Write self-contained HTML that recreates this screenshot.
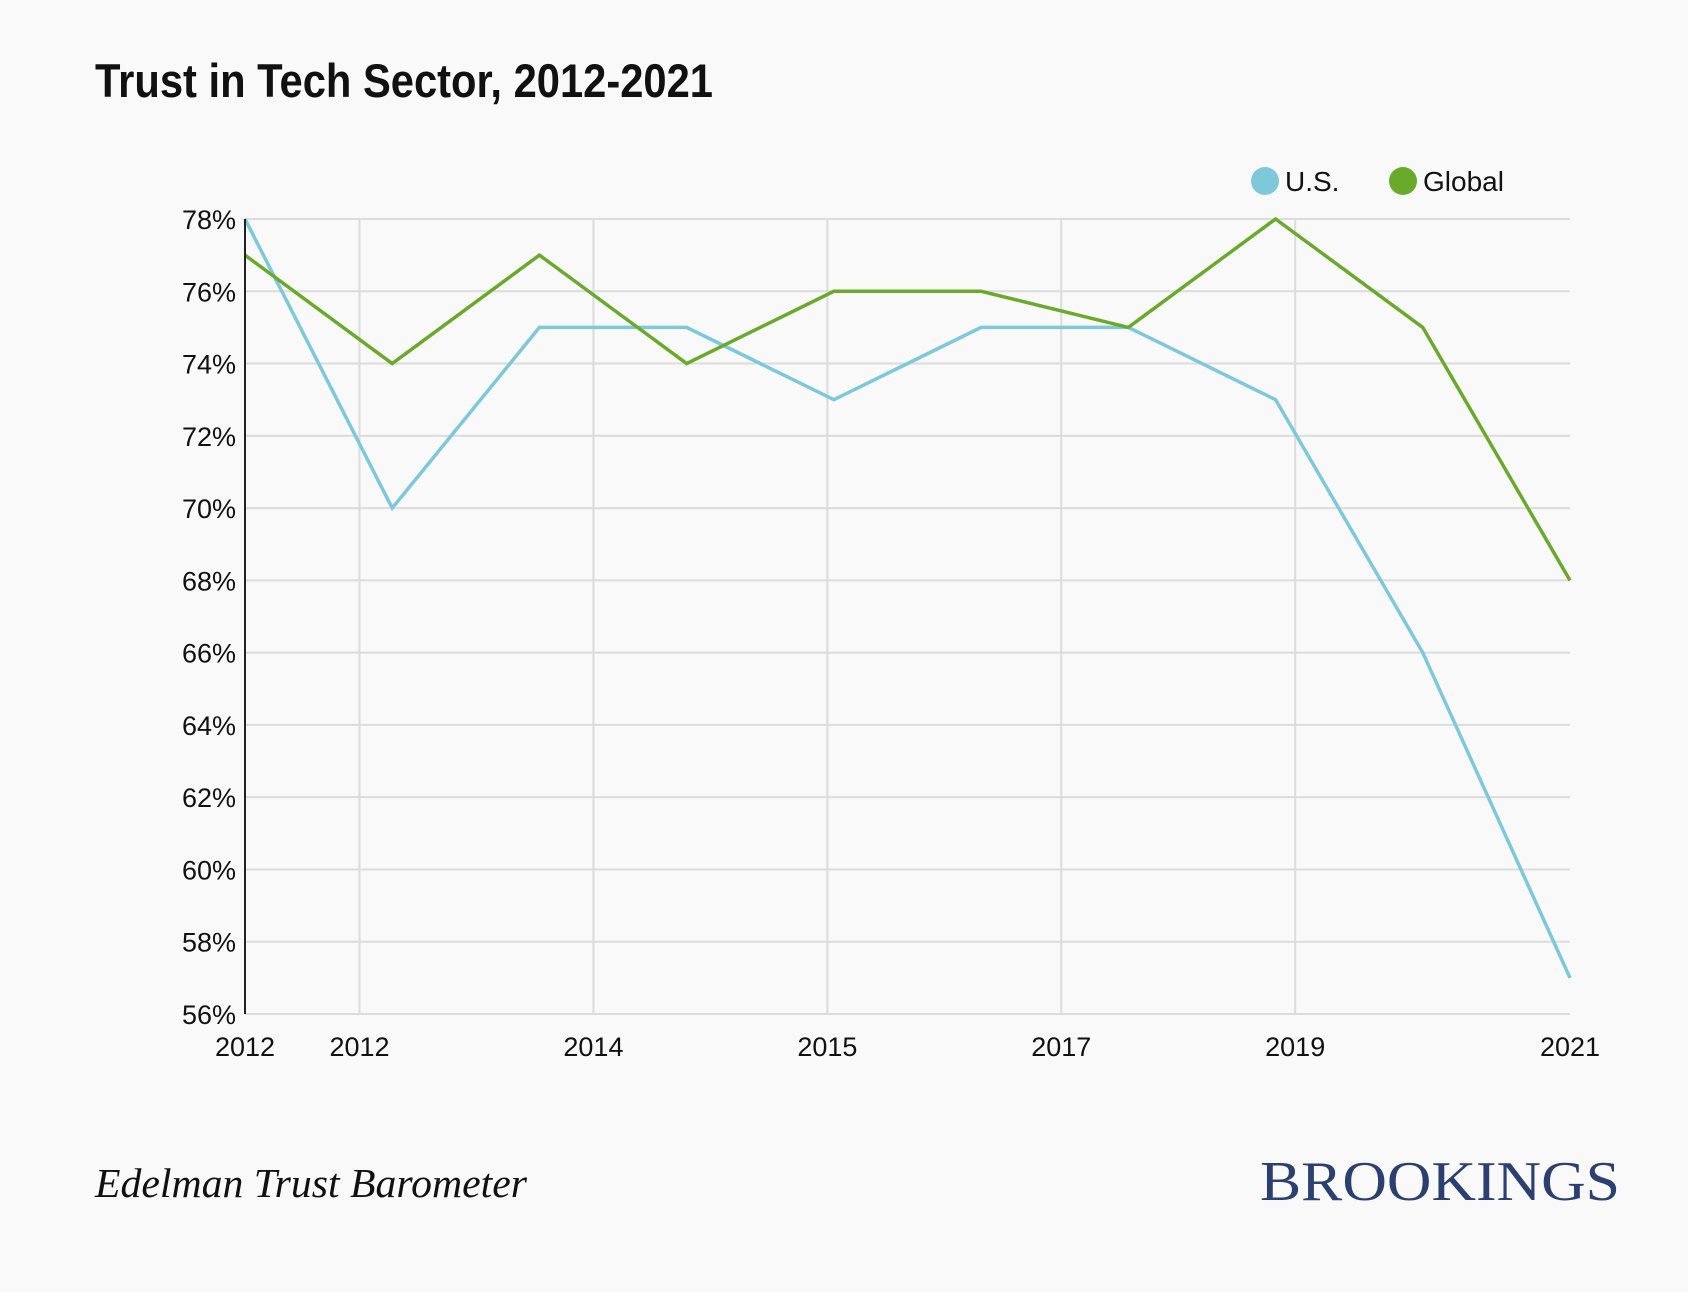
<!DOCTYPE html>
<html><head><meta charset="utf-8"><style>
html,body{margin:0;padding:0;background:#f9f9f9;}
svg{display:block;}
</style></head><body>
<svg width="1688" height="1292" viewBox="0 0 1688 1292" xmlns="http://www.w3.org/2000/svg">
<rect width="1688" height="1292" fill="#f9f9f9"/>
<text x="95" y="97" font-family="'Liberation Sans Narrow','Liberation Sans',sans-serif" font-weight="bold" font-size="47" textLength="618" lengthAdjust="spacingAndGlyphs" fill="#111">Trust in Tech Sector, 2012-2021</text>
<g id="grid"></g>
<g id="series"></g>
<g id="axes"></g>
<g>
<circle cx="1265" cy="181" r="14" fill="#7ec8dc"/>
<text x="1285" y="191" font-family="'Liberation Sans',sans-serif" font-size="28" fill="#111">U.S.</text>
<circle cx="1403" cy="181" r="14" fill="#6aaa2a"/>
<text x="1423" y="191" font-family="'Liberation Sans',sans-serif" font-size="28" fill="#111">Global</text>
</g>
<text x="95" y="1197" font-family="'Liberation Serif',serif" font-style="italic" font-size="41" textLength="432" lengthAdjust="spacingAndGlyphs" fill="#111">Edelman Trust Barometer</text>
<text x="1260" y="1200" font-family="'Liberation Serif',serif" font-size="56" textLength="360" lengthAdjust="spacingAndGlyphs" fill="#2b4070">BROOKINGS</text>
</svg>
<script>
const usValues=[78,70,75,75,73,75,75,73,66,57];
const globalValues=[77,74,77,74,76,76,75,78,75,68];
const yTicks=[56,58,60,62,64,66,68,70,72,74,76,78];
const xTickLabels=["2012","2012","2014","2015","2017","2019","2021"];
const xTickPos=[0,0.7778,2.3667,3.9556,5.5444,7.1333,9];
const NS="http://www.w3.org/2000/svg";
const X0=245,X1=1570,Y0=1014,Y1=219;
function xs(i){return X0+(X1-X0)*i/(usValues.length-1);}
function ys(v){return Y0-(v-56)/(78-56)*(Y0-Y1);}
function mk(tag,attrs,parent){const e=document.createElementNS(NS,tag);for(const k in attrs)e.setAttribute(k,attrs[k]);parent.appendChild(e);return e;}
const grid=document.getElementById('grid'),axes=document.getElementById('axes'),series=document.getElementById('series');
yTicks.forEach(v=>{
  const l=mk('line',{x1:X0,x2:X1,y1:ys(v),y2:ys(v),stroke:'#dcdcdc','stroke-width':2},grid);
  
  
  const t=mk('text',{x:236,y:ys(v)+10,'text-anchor':'end','font-family':"'Liberation Sans',sans-serif",'font-size':27,fill:'#111'},axes);
  t.textContent=v+'%';
  
  
});
xTickPos.forEach((p,i)=>{
  if(i>0&&i<xTickPos.length-1){
    const l=mk('line',{x1:xs(p),x2:xs(p),y1:Y1,y2:Y0,stroke:'#dcdcdc','stroke-width':2},grid);
    
    
  }
  const t=mk('text',{x:xs(p),y:1056,'text-anchor':'middle','font-family':"'Liberation Sans',sans-serif",'font-size':27,fill:'#111'},axes);
  t.textContent=xTickLabels[i];
  
  
});
const ax=mk('line',{x1:X0,x2:X0,y1:Y1,y2:Y0,stroke:'#222','stroke-width':2},axes);


function line(vals,color,name){
  const p=mk('polyline',{points:vals.map((v,i)=>xs(i)+','+ys(v)).join(' '),fill:'none',stroke:color,'stroke-width':3.5,'stroke-linejoin':'miter'},series);
  
  
}
line(usValues,'#7ec8dc','us-line');
line(globalValues,'#6aaa2a','global-line');
</script>
</body></html>
